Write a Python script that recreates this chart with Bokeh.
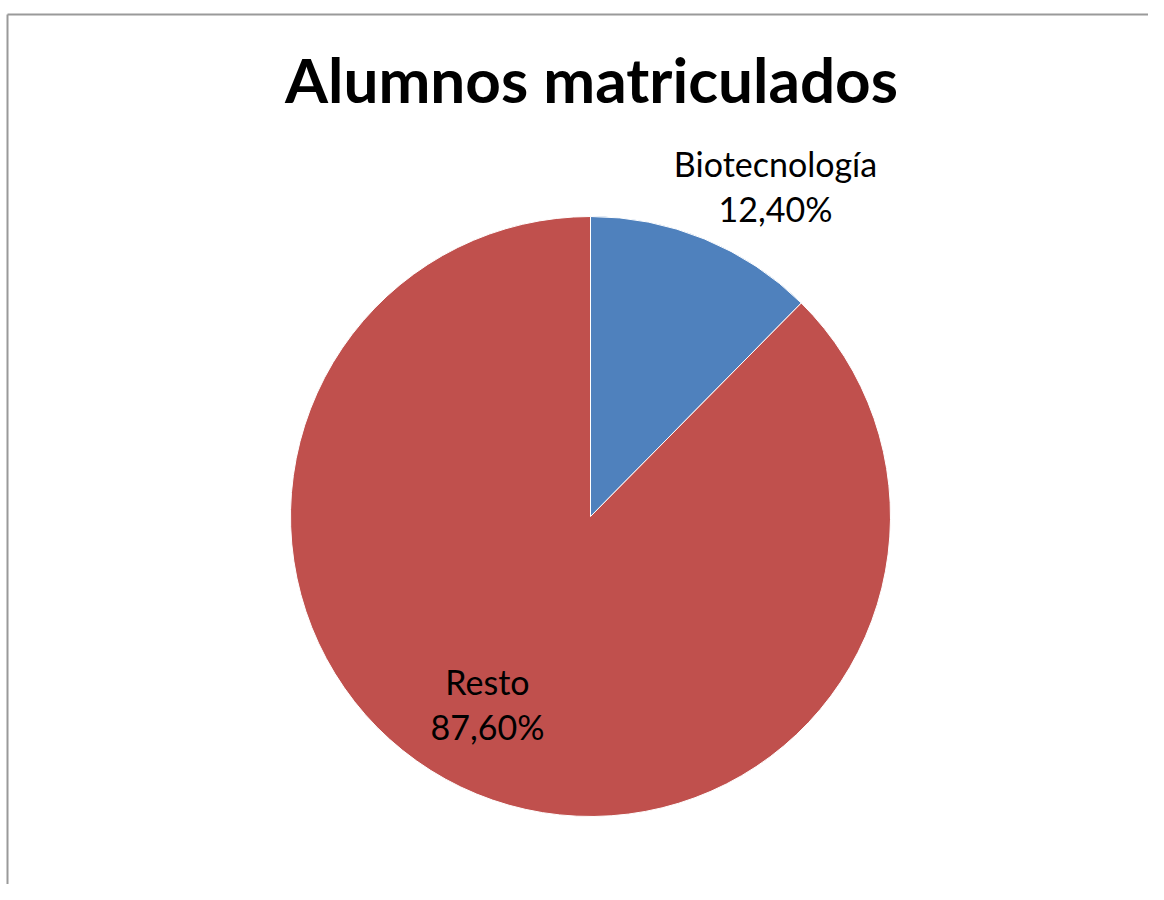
import numpy as np
from bokeh.plotting import figure
from bokeh.models import ColumnDataSource, Range1d
from bokeh.core.properties import value
from bokeh.embed import file_html
from bokeh.resources import INLINE

# ---- data ----
categories = ["Biotecnología", "Resto"]
percentages = [12.40, 87.60]
colors = ["#4F81BD", "#C0504D"]
title_text = "Alumnos matriculados"

# ---- layout (picture pixels; data y = H - picture y) ----
W, H = 1148, 884
def Y(py):
    return H - py

p = figure(width=W, height=H, output_backend="svg", toolbar_location=None,
           x_range=Range1d(0, W), y_range=Range1d(0, H),
           x_axis_type=None, y_axis_type=None, min_border=0,
           outline_line_color=None, background_fill_color="white",
           border_fill_color="white")
p.grid.visible = False

# chart border
p.segment(x0=[7, 7], y0=[Y(14), Y(14)], x1=[7, W], y1=[Y(H), Y(14)],
          line_color="#9a9a9a", line_width=2)

# pie
cx, cy, r = 590, Y(516), 300
fr = np.array(percentages) / 100.0
cum = np.concatenate([[0], np.cumsum(fr)])
start = np.pi / 2 - cum[1:] * 2 * np.pi
end = np.pi / 2 - cum[:-1] * 2 * np.pi
src = ColumnDataSource(dict(start=start, end=end, color=colors, cat=categories))
p.wedge(x=cx, y=cy, radius=r, start_angle="start", end_angle="end",
        fill_color="color", line_color="white", line_width=1, source=src)

# labels
lfs = 34
loff = 0.4 * lfs
lab_pos = [(775, 177), (487, 695)]
lx, ly, ltxt = [], [], []
for (x, py), c, v in zip(lab_pos, categories, percentages):
    lx += [x, x]
    ly += [Y(py - loff), Y(py + 45 - loff)]
    ltxt += [c, f"{v:.2f}".replace(".", ",") + "%"]
p.text(x=lx, y=ly, text=ltxt, text_font=value("Lato"), text_font_size=f"{lfs}px",
       text_align="center", text_baseline="alphabetic", text_color="black")

# title
tfs = 62
p.text(x=[591], y=[Y(103 - 0.4 * tfs)], text=[title_text], text_font=value("Lato"),
       text_font_size=f"{tfs}px", text_font_style="bold", text_align="center",
       text_baseline="alphabetic", text_color="black")

open("out.html", "w").write(file_html(p, INLINE))
